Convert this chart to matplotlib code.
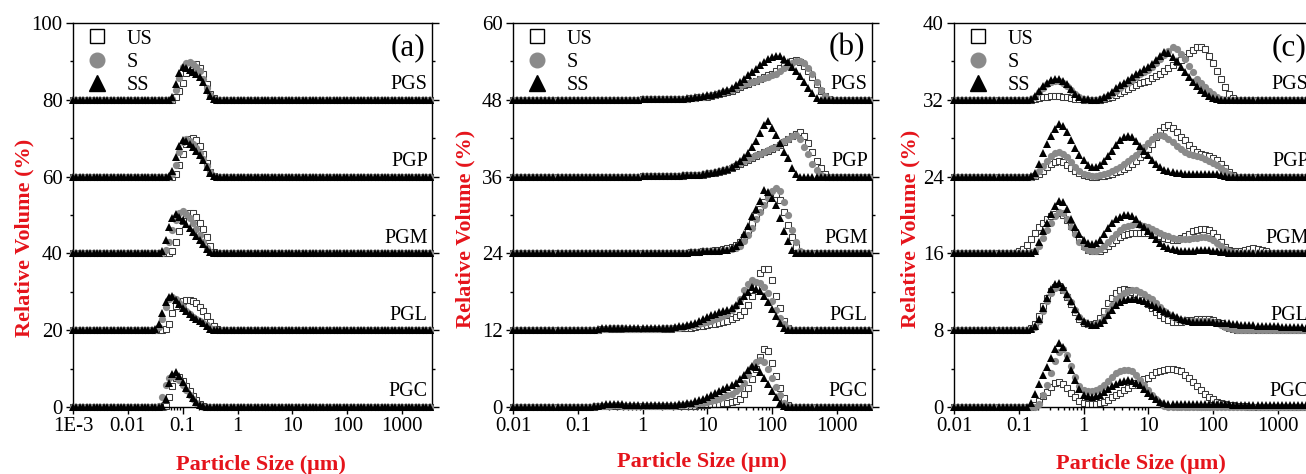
import numpy as np
import matplotlib
matplotlib.use('Agg')
import matplotlib.pyplot as plt
from matplotlib.lines import Line2D
from matplotlib.ticker import LogLocator, NullFormatter, MultipleLocator

plt.rcParams['font.family'] = ['Liberation Serif', 'DejaVu Serif']

# size classes: 16 bins per decade (log10 of um)
STEP = 1 / 16

samples = ['PGS', 'PGP', 'PGM', 'PGL', 'PGC']
treatments = ['US', 'S', 'SS']

# ---------------- panel (a) ----------------
a_lo, a_hi = -3.0, 3.5
a_offsets = [80, 60, 40, 20, 0]
a_yticks = [0, 20, 40, 60, 80, 100]
a_xticks = [1e-3, 0.01, 0.1, 1, 10, 100, 1000]
a_xticklabels = ['1E-3', '0.01', '0.1', '1', '10', '100', '1000']
# log10(size) of first value of each sample
a_starts = [-1.25, -1.25, -1.4375, -1.5, -1.4375]

A_PGS_US = [0.0, 0.0, 0.6, 2.2, 4.5, 7.0, 8.8, 9.3, 9.2, 8.4, 6.8, 4.2, 1.6, 0.4]
A_PGS_S = [0.0, 0.3, 2.5, 5.8, 8.5, 9.6, 9.8, 9.4, 8.6, 7.4, 5.5, 3.2, 1.2, 0.3]
A_PGS_SS = [0.0, 0.8, 4.2, 7.0, 8.5, 8.3, 7.8, 7.3, 6.6, 6.0, 4.6, 2.6, 0.9, 0.1]

A_PGP_US = [0.0, 0.0, 0.8, 3.0, 6.0, 8.5, 9.9, 10.1, 9.5, 8.0, 6.0, 3.5, 1.2, 0.2]
A_PGP_S = [0.0, 0.8, 3.0, 6.3, 9.0, 9.8, 9.3, 8.4, 7.4, 6.2, 4.6, 2.8, 1.1, 0.2]
A_PGP_SS = [0.2, 1.5, 5.0, 8.0, 9.5, 9.2, 8.5, 7.6, 6.6, 5.5, 4.2, 2.6, 1.0, 0.2]

A_PGM_US = [0.0, 0.0, 0.0, 0.2, 0.7, 3.0, 5.8, 8.5, 10.0, 10.6, 10.4, 9.5, 8.0, 6.3, 4.2, 1.8, 0.4]
A_PGM_S = [0.0, 0.2, 1.0, 3.0, 6.0, 8.8, 10.5, 11.0, 10.3, 9.2, 7.9, 6.4, 4.8, 3.0, 1.3, 0.3]
A_PGM_SS = [0.0, 0.5, 3.5, 7.0, 9.3, 10.2, 9.6, 8.7, 7.7, 6.6, 5.6, 4.6, 3.5, 2.4, 1.2, 0.3]

A_PGL_US = [0.0, 0.0, 0.0, 0.3, 1.5, 4.5, 6.2, 7.0, 7.6, 7.9, 7.9, 7.6, 7.0, 6.0, 4.9, 3.6, 2.2, 1.0, 0.3]
A_PGL_S = [0.1, 0.8, 3.0, 6.0, 8.0, 8.6, 8.0, 7.0, 6.0, 5.0, 4.2, 3.5, 3.0, 2.5, 2.0, 1.3, 0.6, 0.2]
A_PGL_SS = [0.2, 1.5, 4.5, 7.3, 8.7, 8.8, 7.8, 6.7, 5.7, 4.9, 4.1, 3.5, 3.0, 2.5, 1.8, 1.0, 0.4, 0.1]

A_PGC_US = [0.0, 0.0, 0.2, 2.5, 5.5, 7.5, 7.8, 6.8, 5.5, 4.2, 2.9, 1.8, 0.9, 0.3]
A_PGC_S = [0.2, 2.5, 5.6, 7.5, 8.0, 7.8, 7.0, 5.8, 4.5, 3.2, 2.0, 1.1, 0.4, 0.1]
A_PGC_SS = [0.0, 0.3, 2.0, 6.3, 8.7, 9.2, 8.0, 6.4, 4.9, 3.5, 2.3, 1.3, 0.6, 0.2]

# ---------------- panel (b) ----------------
b_lo, b_hi = -2.0, 3.5
b_offsets = [48, 36, 24, 12, 0]
b_yticks = [0, 12, 24, 36, 48, 60]
b_xticks = [0.01, 0.1, 1, 10, 100, 1000]
b_xticklabels = ['0.01', '0.1', '1', '10', '100', '1000']
b_starts = [0.0, 0.0, 0.5, -0.75, -0.75]

B_PGS_US = [0.1, 0.1, 0.1, 0.1, 0.1, 0.1, 0.1, 0.1, 0.1, 0.2, 0.2, 0.2, 0.3,
            0.3, 0.4, 0.4, 0.5, 0.6, 0.7, 0.9, 1.0, 1.2, 1.4, 1.7, 2.0,
            2.3, 2.5, 2.8, 3.0, 3.2, 3.5, 3.8, 4.1, 4.5, 4.9, 5.3, 5.8, 6.1, 6.2, 5.9, 5.3,
            4.5, 3.5, 2.4, 1.4, 0.6, 0.1, 0.0]
B_PGS_S = [0.1, 0.1, 0.1, 0.1, 0.1, 0.1, 0.1, 0.1, 0.2, 0.2, 0.2, 0.2, 0.3,
           0.3, 0.4, 0.5, 0.6, 0.7, 0.8, 1.0, 1.2, 1.4, 1.6, 1.9, 2.2,
           2.4, 2.6, 2.8, 3.0, 3.2, 3.4, 3.6, 3.8, 4.1, 4.5, 4.9, 5.3, 5.7, 6.0, 6.1, 5.8,
           5.0, 4.0, 2.8, 1.6, 0.6, 0.1, 0.0]
B_PGS_SS = [0.1, 0.1, 0.1, 0.1, 0.1, 0.1, 0.1, 0.2, 0.2, 0.2, 0.2, 0.3, 0.3,
            0.4, 0.5, 0.6, 0.7, 0.8, 0.9, 1.1, 1.3, 1.6, 1.9, 2.3, 2.8,
            3.3, 3.8, 4.3, 4.8, 5.4, 5.9, 6.4, 6.7, 6.9, 6.8, 6.4, 5.9, 5.2, 4.5, 3.7, 2.8,
            1.9, 1.0, 0.3, 0.0]

B_PGP_US = [0.1, 0.1, 0.1, 0.1, 0.1, 0.1, 0.1, 0.1, 0.1, 0.1, 0.1, 0.2, 0.2,
            0.2, 0.3, 0.3, 0.4, 0.5, 0.6, 0.7, 0.9, 1.1, 1.4, 1.7, 2.0,
            2.3, 2.6, 2.9, 3.2, 3.5, 3.8, 4.0, 4.3, 4.6, 5.0, 5.4, 5.8, 6.3, 6.7, 6.9, 6.4,
            5.3, 3.9, 2.5, 1.3, 0.4, 0.0]
B_PGP_S = [0.1, 0.1, 0.1, 0.1, 0.1, 0.1, 0.1, 0.1, 0.1, 0.1, 0.2, 0.2, 0.2,
           0.3, 0.3, 0.4, 0.5, 0.6, 0.7, 0.8, 1.0, 1.2, 1.5, 1.8, 2.2,
           2.5, 2.8, 3.1, 3.4, 3.6, 3.9, 4.1, 4.4, 4.7, 5.1, 5.5, 5.9, 6.3, 6.5, 5.9, 4.7,
           3.5, 2.0, 1.0, 0.3, 0.0]
B_PGP_SS = [0.1, 0.1, 0.1, 0.1, 0.1, 0.1, 0.1, 0.1, 0.1, 0.1, 0.2, 0.2, 0.2,
            0.3, 0.3, 0.4, 0.5, 0.6, 0.7, 0.8, 1.0, 1.2, 1.5, 1.9, 2.4,
            3.0, 3.7, 4.6, 5.6, 6.8, 8.0, 8.7, 7.6, 6.5, 5.2, 3.9, 2.9, 1.4, 0.4, 0.0]

B_PGM_US = [0.1, 0.1, 0.1, 0.1, 0.2, 0.2, 0.2, 0.3, 0.4,
            0.4, 0.5, 0.6, 0.7, 0.8, 1.0, 1.3, 1.8,
            2.6, 3.6, 4.7, 5.9, 7.0, 8.0, 8.9, 9.4,
            9.3, 8.3, 6.5, 4.4, 2.5, 1.0, 0.1]
B_PGM_S = [0.1, 0.1, 0.1, 0.1, 0.2, 0.2, 0.2, 0.3, 0.3,
           0.3, 0.4, 0.4, 0.5, 0.6, 0.7, 0.9, 1.2,
           2.0, 2.8, 4.0, 5.3, 6.5, 7.6, 8.7, 9.7,
           10.2, 9.8, 8.1, 6.0, 3.6, 1.8, 0.3]
B_PGM_SS = [0.1, 0.1, 0.1, 0.1, 0.2, 0.2, 0.2, 0.3, 0.3,
            0.3, 0.4, 0.4, 0.5, 0.6, 0.8, 1.1, 1.8,
            3.0, 4.3, 5.8, 7.0, 8.2, 9.9, 9.6, 8.6,
            7.5, 5.5, 3.5, 1.9, 0.5, 0.0]

B_PGL_US = [0.1, 0.1, 0.2, 0.2, 0.2, 0.2, 0.2, 0.2, 0.2, 0.2, 0.2, 0.2,
            0.2, 0.2, 0.2, 0.2, 0.2, 0.2, 0.2, 0.2, 0.3,
            0.3, 0.3, 0.4, 0.4, 0.5, 0.6, 0.7, 0.8,
            0.9, 1.0, 1.1, 1.3, 1.5, 1.7, 2.0, 2.4,
            3.0, 4.0, 5.3, 6.8, 8.9, 9.6, 9.5, 7.8,
            5.4, 3.4, 1.5, 0.4, 0.0]
B_PGL_S = [0.1, 0.1, 0.2, 0.2, 0.3, 0.3, 0.3, 0.3, 0.2, 0.2, 0.2, 0.2,
           0.2, 0.2, 0.2, 0.2, 0.2, 0.3, 0.3, 0.3, 0.4,
           0.4, 0.5, 0.6, 0.7, 0.8, 0.9, 1.1, 1.3,
           1.5, 1.7, 1.9, 2.2, 2.6, 3.1, 3.8, 4.9,
           6.3, 7.2, 7.8, 7.6, 7.3, 6.7, 5.8, 4.6,
           3.2, 1.9, 0.9, 0.3, 0.0]
B_PGL_SS = [0.1, 0.2, 0.3, 0.4, 0.4, 0.4, 0.4, 0.3, 0.3, 0.3, 0.3, 0.3,
            0.3, 0.3, 0.3, 0.3, 0.3, 0.3, 0.4, 0.4, 0.5,
            0.6, 0.7, 0.8, 1.0, 1.2, 1.5, 1.8, 2.1,
            2.4, 2.6, 2.8, 3.0, 3.2, 3.5, 3.9, 4.6,
            5.3, 6.0, 6.7, 6.5, 6.1, 5.4, 4.4, 3.3,
            2.2, 1.2, 0.4, 0.0]

B_PGC_US = [0.0, 0.1, 0.1, 0.1, 0.1, 0.1, 0.1, 0.1, 0.1, 0.1, 0.1, 0.1,
            0.1, 0.1, 0.1, 0.1, 0.1, 0.1, 0.1, 0.1, 0.1,
            0.1, 0.1, 0.2, 0.2, 0.2, 0.3, 0.3, 0.3,
            0.4, 0.4, 0.5, 0.6, 0.7, 0.8, 1.0, 1.3,
            2.0, 3.0, 4.3, 6.0, 7.8, 9.0, 8.7, 6.8,
            4.9, 3.0, 1.4, 0.3, 0.0]
B_PGC_S = [0.1, 0.1, 0.2, 0.2, 0.2, 0.3, 0.3, 0.2, 0.2, 0.2, 0.2, 0.2,
           0.2, 0.2, 0.2, 0.2, 0.2, 0.2, 0.2, 0.2, 0.2,
           0.3, 0.3, 0.4, 0.4, 0.5, 0.6, 0.7, 0.8,
           0.9, 1.1, 1.3, 1.5, 1.8, 2.1, 2.5, 3.0,
           3.8, 5.0, 6.2, 7.0, 7.3, 7.0, 6.0, 4.6,
           3.1, 1.8, 0.7, 0.2, 0.0]
B_PGC_SS = [0.1, 0.2, 0.3, 0.4, 0.4, 0.4, 0.4, 0.4, 0.3, 0.3, 0.3, 0.3,
            0.3, 0.3, 0.3, 0.3, 0.3, 0.3, 0.3, 0.3, 0.3,
            0.4, 0.5, 0.6, 0.7, 0.9, 1.1, 1.3, 1.6,
            1.9, 2.2, 2.5, 2.8, 3.1, 3.4, 3.8, 4.3,
            5.0, 5.8, 6.4, 6.2, 5.5, 4.6, 3.6, 2.5,
            1.5, 0.6, 0.1, 0.0]

# ---------------- panel (c) ----------------
c_lo, c_hi = -2.0, 3.5
c_offsets = [32, 24, 16, 8, 0]
c_yticks = [0, 8, 16, 24, 32, 40]
c_xticks = [0.01, 0.1, 1, 10, 100, 1000]
c_xticklabels = ['0.01', '0.1', '1', '10', '100', '1000']
c_starts = [-0.875, -0.875, -1.0, -0.875, -0.875]

C_PGS_US = [0.0, 0.0, 0.1, 0.2, 0.3, 0.3, 0.35,
            0.35, 0.35, 0.3, 0.3, 0.2, 0.1, 0.1, 0.0,
            0.0, 0.0, 0.0, 0.0, 0.1, 0.2, 0.3, 0.5,
            0.7, 0.9, 1.1, 1.3, 1.5, 1.7, 1.9, 2.0,
            2.3, 2.5, 2.7, 3.0, 3.3, 3.6, 3.9, 4.1,
            4.5, 4.9, 5.2, 5.5, 5.5, 5.3, 4.6, 3.8,
            3.0, 2.2, 1.3, 0.6, 0.2, 0.0]
C_PGS_S = [0.0, 0.1, 0.3, 0.8, 1.2, 1.6, 1.9,
           2.0, 2.0, 1.8, 1.4, 1.0, 0.6, 0.3, 0.1,
           0.0, 0.0, 0.0, 0.1, 0.2, 0.4, 0.6, 0.9,
           1.2, 1.5, 1.8, 2.1, 2.4, 2.7, 2.9, 3.1,
           3.4, 3.8, 4.2, 4.7, 5.1, 5.5, 5.3, 4.8,
           4.2, 3.5, 2.9, 2.2, 1.7, 1.3, 0.9, 0.6,
           0.3, 0.1, 0.0]
C_PGS_SS = [0.0, 0.1, 0.4, 0.9, 1.4, 1.8, 2.1,
            2.2, 2.2, 2.0, 1.6, 1.1, 0.6, 0.3, 0.1,
            0.05, 0.0, 0.0, 0.1, 0.3, 0.5, 0.8, 1.2,
            1.5, 1.8, 2.1, 2.4, 2.7, 2.9, 3.2, 3.4,
            3.7, 4.1, 4.6, 5.0, 4.9, 4.5, 4.0, 3.4,
            2.9, 2.4, 1.9, 1.4, 1.0, 0.7, 0.4, 0.2,
            0.1, 0.0]

C_PGP_US = [0.0, 0.0, 0.1, 0.3, 0.6, 1.0, 1.3,
            1.5, 1.6, 1.5, 1.2, 0.9, 0.6, 0.4, 0.2,
            0.1, 0.0, 0.0, 0.1, 0.1, 0.2, 0.3, 0.5,
            0.6, 0.8, 1.0, 1.3, 1.6, 2.0, 2.4, 2.9,
            3.4, 4.1, 4.8, 5.2, 5.4, 5.1, 4.6, 4.1,
            3.8, 3.3, 2.9, 2.6, 2.4, 2.2, 2.1, 1.9,
            1.7, 1.3, 0.9, 0.5, 0.2, 0.0]
C_PGP_S = [0.0, 0.0, 0.2, 0.6, 1.1, 1.6, 2.1,
           2.5, 2.6, 2.4, 2.0, 1.5, 1.0, 0.6, 0.3,
           0.2, 0.1, 0.1, 0.2, 0.3, 0.4, 0.6, 0.8,
           1.0, 1.3, 1.6, 1.9, 2.3, 2.7, 3.1, 3.5,
           3.9, 4.2, 4.35, 4.2, 3.9, 3.6, 3.2, 2.9,
           2.6, 2.4, 2.2, 2.1, 2.0, 1.8, 1.6, 1.4,
           1.2, 0.9, 0.6, 0.3, 0.1, 0.0]
C_PGP_SS = [0.0, 0.1, 0.4, 1.3, 2.5, 3.4, 4.2,
            5.0, 5.5, 5.3, 4.6, 3.8, 3.0, 2.3, 1.7,
            1.2, 1.0, 1.0, 1.2, 1.6, 2.1, 2.7, 3.3,
            3.8, 4.1, 4.2, 4.1, 3.7, 3.2, 2.7, 2.2,
            1.7, 1.3, 1.0, 0.7, 0.6, 0.5, 0.4, 0.4,
            0.3, 0.3, 0.3, 0.3, 0.3, 0.3, 0.3, 0.3,
            0.3, 0.2, 0.1, 0.0]

C_PGM_US = [0.2, 0.5, 0.9, 1.5, 2.1, 2.7, 3.2, 3.6,
            3.9, 4.1, 4.2, 4.0, 3.5, 2.9, 2.2, 1.5,
            0.8, 0.4, 0.3, 0.2, 0.3, 0.5, 0.8, 1.1,
            1.4, 1.7, 1.9, 2.0, 2.1, 2.1, 2.1, 2.1,
            2.1, 2.0, 1.9, 1.8, 1.6, 1.5, 1.4, 1.4,
            1.6, 1.8, 2.0, 2.3, 2.4, 2.5, 2.5, 2.4,
            2.1, 1.7, 1.2, 0.7, 0.4, 0.2, 0.2, 0.3,
            0.4, 0.5, 0.6, 0.5, 0.4, 0.2, 0.0]
C_PGM_S = [0.0, 0.0, 0.0, 0.1, 0.3, 0.8, 1.6, 2.4,
           3.2, 3.9, 4.3, 4.2, 3.6, 2.8, 2.0, 1.2,
           0.7, 0.4, 0.3, 0.3, 0.5, 0.8, 1.2, 1.6,
           2.0, 2.4, 2.7, 2.9, 3.0, 3.1, 3.0, 2.9,
           2.7, 2.5, 2.3, 2.1, 1.9, 1.8, 1.6, 1.5,
           1.5, 1.5, 1.5, 1.6, 1.6, 1.7, 1.7, 1.6,
           1.4, 1.1, 0.8, 0.5, 0.3, 0.1, 0.0]
C_PGM_SS = [0.0, 0.0, 0.0, 0.05, 0.3, 1.2, 2.3, 3.2,
            4.1, 4.9, 5.5, 5.4, 4.6, 3.6, 2.8, 2.0,
            1.4, 1.1, 1.0, 1.1, 1.4, 2.0, 2.6, 3.2,
            3.6, 3.8, 3.95, 4.0, 3.9, 3.6, 3.1, 2.7,
            2.3, 1.9, 1.5, 1.1, 0.8, 0.6, 0.5, 0.4,
            0.3, 0.3, 0.3, 0.3, 0.4, 0.4, 0.4, 0.4,
            0.3, 0.2, 0.1, 0.1, 0.0]

C_PGL_US = [0.0, 0.2, 0.6, 1.5, 2.5, 3.4, 4.1,
            4.5, 4.6, 4.2, 3.5, 2.7, 1.9, 1.2, 0.8,
            0.6, 0.6, 0.8, 1.3, 2.0, 2.8, 3.4, 3.9,
            4.2, 4.25, 4.2, 4.0, 3.8, 3.5, 3.1, 2.7,
            2.3, 1.9, 1.6, 1.3, 1.1, 0.9, 0.85, 0.9,
            1.0, 1.1, 1.1, 1.2, 1.2, 1.2, 1.2, 1.1,
            0.9, 0.7, 0.4, 0.2, 0.1, 0.0]
C_PGL_S = [0.0, 0.1, 0.3, 1.0, 2.0, 3.0, 3.9,
           4.4, 4.5, 4.2, 3.6, 2.9, 2.1, 1.4, 0.9,
           0.6, 0.5, 0.6, 0.9, 1.4, 2.0, 2.6, 3.2,
           3.6, 3.9, 4.1, 4.2, 4.2, 4.0, 3.8, 3.5,
           3.2, 2.8, 2.4, 2.0, 1.7, 1.4, 1.2, 1.1,
           1.0, 1.0, 1.0, 1.0, 1.0, 1.0, 1.0, 0.9,
           0.7, 0.5, 0.3, 0.2, 0.1, 0.0]
C_PGL_SS = [0.0, 0.1, 0.4, 1.2, 2.3, 3.4, 4.3,
            4.8, 4.9, 4.5, 3.8, 3.0, 2.2, 1.5, 1.0,
            0.7, 0.5, 0.5, 0.7, 1.1, 1.6, 2.1, 2.6,
            2.9, 3.1, 3.2, 3.2, 3.2, 3.1, 3.0, 2.8,
            2.6, 2.4, 2.2, 2.0, 1.8, 1.6, 1.4, 1.2,
            1.1, 1.0, 0.9, 0.9, 0.9, 0.9, 0.9, 0.9,
            0.8, 0.8, 0.7, 0.7, 0.6, 0.6, 0.5, 0.5,
            0.5, 0.5, 0.4, 0.4, 0.4, 0.4, 0.4, 0.4,
            0.3, 0.3, 0.3, 0.3, 0.3, 0.3, 0.2, 0.2]

C_PGC_US = [0.0, 0.0, 0.2, 0.6, 1.1, 1.6, 2.1,
            2.5, 2.6, 2.4, 2.0, 1.5, 1.0, 0.6, 0.4,
            0.3, 0.3, 0.3, 0.4, 0.5, 0.7, 1.0, 1.2,
            1.5, 1.8, 2.0, 2.3, 2.5, 2.7, 2.9, 3.0,
            3.3, 3.6, 3.8, 3.9, 4.0, 4.0, 3.9, 3.7,
            3.3, 3.0, 2.6, 2.2, 1.8, 1.4, 1.0, 0.8,
            0.5, 0.4, 0.3, 0.2, 0.2, 0.1, 0.1, 0.1]
C_PGC_S = [0.0, 0.0, 0.0, 0.3, 1.2, 2.3, 3.5,
           4.8, 5.7, 6.0, 5.4, 4.3, 3.1, 2.2, 1.8,
           1.7, 1.7, 1.8, 2.0, 2.3, 2.7, 3.1, 3.5,
           3.8, 3.9, 3.9, 3.7, 3.3, 2.8, 2.3, 1.8,
           1.3, 0.8, 0.4, 0.1, 0.0]
C_PGC_SS = [0.0, 0.4, 1.4, 2.4, 3.3, 4.2, 5.1,
            6.0, 6.7, 6.2, 5.1, 3.9, 2.8, 1.9, 1.3,
            1.1, 1.0, 1.1, 1.3, 1.6, 1.9, 2.2, 2.4,
            2.6, 2.75, 2.8, 2.7, 2.5, 2.3, 1.9, 1.5,
            1.1, 0.8, 0.5, 0.4, 0.3, 0.3, 0.3, 0.3,
            0.3, 0.3, 0.3, 0.3, 0.3, 0.3, 0.3, 0.3,
            0.3, 0.3, 0.3, 0.3, 0.2, 0.2, 0.2, 0.2,
            0.2, 0.2, 0.2, 0.2, 0.2, 0.2, 0.2, 0.2,
            0.2, 0.2, 0.2, 0.2, 0.2, 0.2, 0.2, 0.2]

RED = '#e5141b'

# marker styles for the three treatments
styles = {
    'US': dict(marker='s', ms=4.8, mfc='white', mec='#3a3a3a', mew=0.75, zorder=2),
    'S': dict(marker='o', ms=5.2, mfc='#8a8a8a', mec='#8a8a8a', mew=0, zorder=3),
    'SS': dict(marker='^', ms=5.9, mfc='black', mec='black', mew=0, zorder=4),
}


def draw_panel(ax, lo, hi, starts, series, offsets, yticks, xticks, xticklabels, letter):
    logs = np.arange(lo, hi + 1e-9, STEP)
    x = 10 ** logs
    for name, start, off in zip(samples, starts, offsets):
        i0 = int(round((start - lo) / STEP))
        for tr, vals in zip(treatments, series[name]):
            y = np.zeros(len(x))
            y[i0:i0 + len(vals)] = vals
            ax.plot(x, y + off, linestyle='none', clip_on=False, **styles[tr])
        ax.annotate(name, xy=(0.988, off), xycoords=('axes fraction', 'data'),
                    xytext=(0, 4), textcoords='offset points',
                    ha='right', va='bottom', fontsize=14.5)

    ax.set_xscale('log')
    ax.set_xlim(10 ** lo, 3500)
    ax.set_ylim(yticks[0], yticks[-1])
    ax.set_yticks(yticks)
    ax.yaxis.set_minor_locator(MultipleLocator(yticks[1] / 2))
    ax.set_xticks(xticks)
    ax.set_xticklabels(xticklabels)
    ax.xaxis.set_minor_locator(LogLocator(base=10, subs=np.arange(2, 10), numticks=30))
    ax.xaxis.set_minor_formatter(NullFormatter())

    ax.tick_params(which='both', direction='out', right=True, labelsize=15, width=1)
    ax.tick_params(which='major', length=5, pad=2.5)
    ax.tick_params(which='minor', length=2.5)
    for sp in ax.spines.values():
        sp.set_linewidth(1.0)

    ax.text(0.982, 0.935, letter, transform=ax.transAxes, ha='right', va='center',
            fontsize=22.5)

    handles = [Line2D([], [], linestyle='none', marker='s', ms=9.5, mfc='white', mec='black', mew=1.0),
               Line2D([], [], linestyle='none', marker='o', ms=10.5, mfc='#8a8a8a', mec='#8a8a8a'),
               Line2D([], [], linestyle='none', marker='^', ms=11.5, mfc='black', mec='black')]
    ax.legend(handles, treatments, loc='upper left', bbox_to_anchor=(0.0, 1.02),
              frameon=False, fontsize=14.5, handlelength=1.0, handletextpad=0.95,
              labelspacing=0.2, borderaxespad=0.3)

    ax.set_xlabel('Particle Size (μm)', color=RED, fontsize=16, fontweight='bold')
    ax.set_ylabel('Relative Volume (%)', color=RED, fontsize=16, fontweight='bold')


fig = plt.figure(figsize=(13.06, 4.74), dpi=100)
W, H = 1306.0, 474.0
ax_w = 359 / W
ax_h = 384 / H
ax_b = 1 - 407 / H
ax_a = fig.add_axes([73 / W, ax_b, ax_w, ax_h])
ax_bp = fig.add_axes([513 / W, ax_b, ax_w, ax_h])
ax_c = fig.add_axes([954 / W, ax_b, ax_w, ax_h])

a_series = {'PGS': (A_PGS_US, A_PGS_S, A_PGS_SS), 'PGP': (A_PGP_US, A_PGP_S, A_PGP_SS),
            'PGM': (A_PGM_US, A_PGM_S, A_PGM_SS), 'PGL': (A_PGL_US, A_PGL_S, A_PGL_SS),
            'PGC': (A_PGC_US, A_PGC_S, A_PGC_SS)}
b_series = {'PGS': (B_PGS_US, B_PGS_S, B_PGS_SS), 'PGP': (B_PGP_US, B_PGP_S, B_PGP_SS),
            'PGM': (B_PGM_US, B_PGM_S, B_PGM_SS), 'PGL': (B_PGL_US, B_PGL_S, B_PGL_SS),
            'PGC': (B_PGC_US, B_PGC_S, B_PGC_SS)}
c_series = {'PGS': (C_PGS_US, C_PGS_S, C_PGS_SS), 'PGP': (C_PGP_US, C_PGP_S, C_PGP_SS),
            'PGM': (C_PGM_US, C_PGM_S, C_PGM_SS), 'PGL': (C_PGL_US, C_PGL_S, C_PGL_SS),
            'PGC': (C_PGC_US, C_PGC_S, C_PGC_SS)}

draw_panel(ax_a, a_lo, a_hi, a_starts, a_series, a_offsets, a_yticks, a_xticks, a_xticklabels, '(a)')
draw_panel(ax_bp, b_lo, b_hi, b_starts, b_series, b_offsets, b_yticks, b_xticks, b_xticklabels, '(b)')
draw_panel(ax_c, c_lo, c_hi, c_starts, c_series, c_offsets, c_yticks, c_xticks, c_xticklabels, '(c)')

# label positions (axes fraction)
ax_a.yaxis.set_label_coords(-0.108, 0.44)
ax_bp.yaxis.set_label_coords(-0.105, 0.465)
ax_c.yaxis.set_label_coords(-0.093, 0.465)
ax_a.xaxis.set_label_coords(0.524, -0.125)
ax_bp.xaxis.set_label_coords(0.525, -0.118)
ax_c.xaxis.set_label_coords(0.522, -0.122)

fig.savefig('out.png', dpi=100)
